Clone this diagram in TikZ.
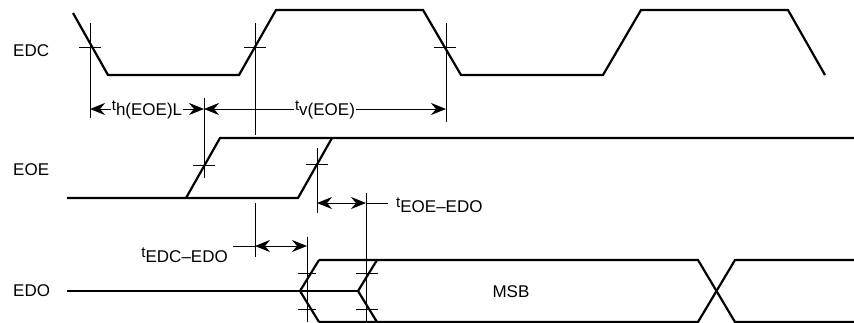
\documentclass[tikz,border=0pt]{standalone}
\usepackage{fontspec}
\setmainfont{Liberation Sans}
\usetikzlibrary{arrows.meta}

\newcommand{\tlabel}[1]{{\fontsize{15}{18}\selectfont t}\raisebox{-5pt}{#1}}

\begin{document}
\begin{tikzpicture}[x=1pt,y=-1pt,
        signal/.style={line width=2.2pt,line join=miter},
        guide/.style={line width=1pt},
        dim/.style={guide,{Stealth[length=15pt,width=12pt,inset=5pt]}-{Stealth[length=15pt,width=12pt,inset=5pt]}},
        lbl/.style={font=\fontsize{17}{20}\selectfont,inner sep=1pt}]
        % Background
        \useasboundingbox (0,0) rectangle (854,322);
        \fill[white] (0,0) rectangle (854,322);

        % Signal names
        \node[lbl,anchor=west] (edc) at (12,51) {EDC};
        \node[lbl,anchor=west] (eoe) at (12,170) {EOE};
        \node[lbl,anchor=west] (edo) at (12,291) {EDO};

        % EDC
        \draw[signal] (73,13) -- (108,75) -- (239,75) -- (276,10) -- (423,10)
            -- (461,75) -- (603,75) -- (641,10) -- (788,10) -- (825,75);

        % EOE
        \draw[signal] (67,198) -- (298,198) -- (332,138);
        \draw[signal] (186,198) -- (220,138) -- (854,138);

        % EDO
        \draw[signal] (67,291) -- (358,291);
        \foreach \x in {300,358} {
            \draw[signal] (\x+19,260) -- (\x,291) -- (\x+19,322);
        }
        \draw[signal] (319,260) -- (698,260) -- (735,322) -- (854,322);
        \draw[signal] (319,322) -- (698,322) -- (735,260) -- (854,260);
        \node[lbl] (msb) at (511,292) {MSB};

        % Crossing marks
        \foreach \x/\y/\w in {90/47/11, 255/47/11, 445/47/11, 204/165/11, 317/164/11,
                307/273/9, 307/309/9, 367/273/11, 367/309/11} {
            \draw[guide] (\x-\w,\y) -- (\x+\w,\y);
        }

        % Extension lines
        \foreach \x/\ya/\yb in {90/23/118, 255/23/135, 255/203/257, 446/23/122,
                204/98/178, 317/148/213, 366/193/322, 307/237/322} {
            \draw[guide] (\x,\ya) -- (\x,\yb);
        }

        % Timing arrows
        \coordinate (h1) at (90,109);
        \coordinate (h2) at (204,109);
        \coordinate (v2) at (446,109);
        \draw[dim] (h1) -- node[lbl,fill=white,anchor=base,yshift=-1pt] (th) {\tlabel{h(EOE)L}} (h2);
        \draw[dim] (h2) -- node[lbl,fill=white,anchor=base,yshift=-1pt] (tv) {\tlabel{v(EOE)}} (v2);

        \coordinate (e1) at (317,203);
        \coordinate (e2) at (366,203);
        \draw[dim] (e1) -- (e2);
        \draw[guide] (e2) -- ++(22,0);
        \node[lbl,anchor=base west] (teoe) at (395,207) {\tlabel{EOE–EDO}};

        \coordinate (d1) at (255,246);
        \coordinate (d2) at (307,246);
        \draw[dim] (d1) -- (d2);
        \draw[guide] (d1) -- ++(-22,0);
        \node[lbl,anchor=base east] (tedc) at (229,257) {\tlabel{EDC–EDO}};

    \end{tikzpicture}
\end{document}
